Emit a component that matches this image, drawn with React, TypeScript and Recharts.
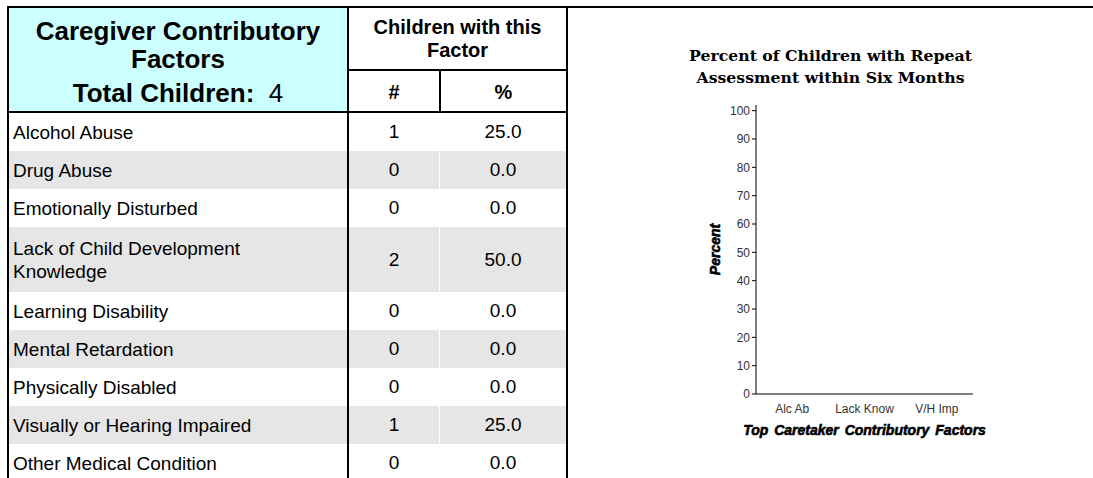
import React from "react"
import { Bar, BarChart, XAxis, YAxis, Label } from "recharts"

const factorNames = [
    "Alcohol Abuse",
    "Drug Abuse",
    "Emotionally Disturbed",
    "Lack of Child Development Knowledge",
    "Learning Disability",
    "Mental Retardation",
    "Physically Disabled",
    "Visually or Hearing Impaired",
    "Other Medical Condition",
]
const factorCounts = [1, 0, 0, 2, 0, 0, 0, 1, 0]
const factorPercents = [25.0, 0.0, 0.0, 50.0, 0.0, 0.0, 0.0, 25.0, 0.0]
const totalChildren = 4

const chartFactors = ["Alc Ab", "Lack Know", "V/H Imp"]
const repeatPercents = [0, 0, 0]
const percentTicks = [0, 10, 20, 30, 40, 50, 60, 70, 80, 90, 100]

const SANS = '"Liberation Sans", Arial, Helvetica, sans-serif'
const SERIF = '"DejaVu Serif", serif'

const line = (left: number, top: number, width: number, height: number) => (
    <div style={{ position: "absolute", left, top, width, height, background: "#000" }} />
)

function FactorTable() {
    let y = 113
    const rows = factorNames.map((name, i) => {
        const h = name.length > 30 ? 65 : 38
        const top = y
        y += h
        const bg = i % 2 === 1 ? "#e6e6e6" : "#fff"
        const cell: React.CSSProperties = {
            position: "absolute", top, height: h, background: bg,
            display: "flex", alignItems: "center", boxSizing: "border-box",
        }
        return (
            <React.Fragment key={name}>
                <div style={{ ...cell, left: 9, width: 338, padding: "0 15px 0 4px", lineHeight: "23px" }}>{name}</div>
                <div style={{ ...cell, left: 349, width: 90, justifyContent: "center" }}>{factorCounts[i]}</div>
                <div style={{ ...cell, left: 440, width: 126, justifyContent: "center" }}>{factorPercents[i].toFixed(1)}</div>
            </React.Fragment>
        )
    })

    return (
        <div style={{ fontFamily: SANS, fontSize: 19, color: "#000" }}>
            <div style={{
                position: "absolute", left: 9, top: 8, width: 338, height: 103, background: "#ccffff",
                display: "flex", flexDirection: "column", justifyContent: "center", alignItems: "center",
                textAlign: "center", fontWeight: "bold", fontSize: 26, paddingTop: 4, boxSizing: "border-box",
            }}>
                <div style={{ lineHeight: "28px" }}>Caregiver Contributory Factors</div>
                <div style={{ lineHeight: "28px", marginTop: 6 }}>
                    Total Children:&nbsp; <span style={{ fontWeight: "normal" }}>{totalChildren}</span>
                </div>
            </div>
            <div style={{
                position: "absolute", left: 349, top: 8, width: 217, height: 61,
                display: "flex", alignItems: "center", justifyContent: "center", textAlign: "center",
                fontWeight: "bold", fontSize: 20, lineHeight: "23px",
            }}>
                Children with this Factor
            </div>
            <div style={{ position: "absolute", left: 349, top: 72, width: 90, height: 40, display: "flex", alignItems: "center", justifyContent: "center", fontWeight: "bold", fontSize: 20 }}>#</div>
            <div style={{ position: "absolute", left: 441, top: 72, width: 125, height: 40, display: "flex", alignItems: "center", justifyContent: "center", fontWeight: "bold", fontSize: 20 }}>%</div>
            {rows}
            {line(7, 6, 1086, 2)}
            {line(7, 6, 2, 472)}
            {line(347, 6, 2, 472)}
            {line(566, 6, 2, 472)}
            {line(7, 111, 561, 2)}
            {line(347, 69, 221, 2)}
            {line(439, 69, 2, 44)}
        </div>
    )
}

export default function App() {
    const chartData = chartFactors.map((name, i) => ({ name, value: repeatPercents[i] }))
    const axisTitle = { fontWeight: "bold", fontStyle: "italic", fill: "#000", stroke: "#000", strokeWidth: 0.6, fontFamily: SANS }

    return (
        <div style={{ position: "absolute", left: 0, top: 0, width: 1093, height: 478, background: "#fff", overflow: "hidden" }}>
            <FactorTable />
            <div style={{
                position: "absolute", left: 568, top: 45, width: 525, textAlign: "center",
                fontFamily: SERIF, fontWeight: "bold", fontSize: 15.7, lineHeight: "22px", color: "#000",
            }}>
                <div>Percent of Children with Repeat</div>
                <div>Assessment within Six Months</div>
            </div>
            <div style={{ position: "absolute", left: 568, top: 8 }}>
                <BarChart width={525} height={470} data={chartData} margin={{ top: 97, right: 120, bottom: 34, left: 138 }}>
                    <XAxis
                        dataKey="name"
                        interval={0}
                        tickLine={false}
                        tickMargin={4}
                        height={50}
                        axisLine={{ stroke: "#000" }}
                        tick={{ fontSize: 12, fill: "#333", fontFamily: SANS }}
                    >
                        <Label
                            value="Top Caretaker Contributory Factors"
                            position="insideBottom"
                            offset={9}
                            style={{ ...axisTitle, fontSize: 14, wordSpacing: 2 }}
                        />
                    </XAxis>
                    <XAxis xAxisId="top" dataKey="name" orientation="top" height={0} tick={false} tickLine={false} axisLine={{ stroke: "#000" }} />
                    <YAxis
                        domain={[0, 102]}
                        ticks={percentTicks}
                        tickSize={4}
                        tickMargin={2}
                        width={50}
                        axisLine={{ stroke: "#000" }}
                        tickLine={{ stroke: "#000" }}
                        tick={{ fontSize: 12, fill: "#333", fontFamily: SANS }}
                    >
                        <Label
                            value="Percent"
                            angle={-90}
                            position="insideLeft"
                            offset={9}
                            style={{ ...axisTitle, textAnchor: "middle", fontSize: 14 }}
                        />
                    </YAxis>
                    <YAxis yAxisId="right" orientation="right" domain={[0, 102]} width={0} tick={false} tickLine={false} axisLine={{ stroke: "#000" }} />
                    <Bar dataKey="value" fill="#9999ff" isAnimationActive={false} />
                </BarChart>
            </div>
        </div>
    )
}
